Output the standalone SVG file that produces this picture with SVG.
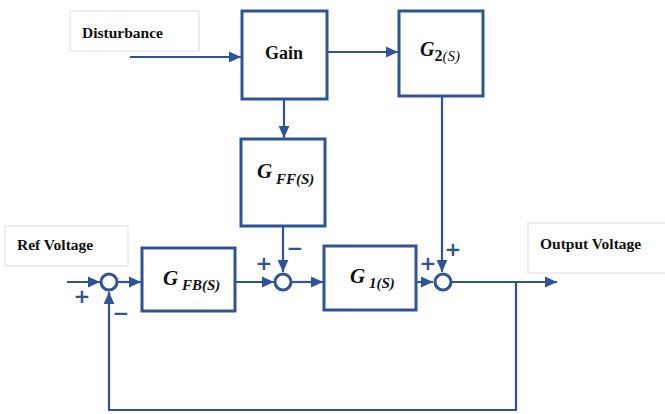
<svg xmlns="http://www.w3.org/2000/svg" width="665" height="414" viewBox="0 0 665 414">
<defs>
<marker id="ah" markerUnits="userSpaceOnUse" markerWidth="12" markerHeight="12" viewBox="0 0 10 10" refX="10" refY="5" orient="auto">
<path d="M0,0.5 L10,5 L0,9.5 Z" fill="#2f5496"/>
</marker>
<style>
.blk{fill:#fff;stroke:#2f5496;stroke-width:3}
.lbl{fill:#fff;stroke:#dcdcdc;stroke-width:1}
.ln{fill:none;stroke:#2f5496;stroke-width:2.2}
.sum{fill:#fff;stroke:#2f5496;stroke-width:3}
.t{font-family:"Liberation Serif",serif;font-weight:bold;fill:#111}
.g{font-family:"Liberation Serif",serif;font-weight:bold;font-style:italic;fill:#111}
.sg{font-family:"DejaVu Sans",sans-serif;font-weight:bold;fill:#2f5496;font-size:20px}
</style>
</defs>
<rect width="665" height="414" fill="#fff"/>

<g id="disturbance-label"><rect class="lbl" x="70" y="11" width="129" height="40"/><text class="t" x="82" y="38" font-size="15.5">Disturbance</text></g>
<g id="ref-label"><rect class="lbl" x="5" y="226" width="123" height="40"/><text class="t" x="17" y="250" font-size="15.5">Ref Voltage</text></g>
<g id="output-label"><rect class="lbl" x="528" y="223" width="140" height="50"/><text class="t" x="540" y="249" font-size="15.5">Output Voltage</text></g>

<g id="connectors">
<line class="ln" x1="130" y1="57" x2="241" y2="57" marker-end="url(#ah)"/>
<line class="ln" x1="327" y1="52" x2="398" y2="52" marker-end="url(#ah)"/>
<line class="ln" x1="284" y1="99" x2="284" y2="138" marker-end="url(#ah)"/>
<line class="ln" x1="442" y1="96" x2="442" y2="272" marker-end="url(#ah)"/>
<line class="ln" x1="283" y1="226" x2="283" y2="272" marker-end="url(#ah)"/>
<line class="ln" x1="67" y1="282" x2="100" y2="282" marker-end="url(#ah)"/>
<line class="ln" x1="118" y1="282" x2="141" y2="282" marker-end="url(#ah)"/>
<line class="ln" x1="235" y1="282" x2="274" y2="282" marker-end="url(#ah)"/>
<line class="ln" x1="292" y1="282" x2="323" y2="282" marker-end="url(#ah)"/>
<line class="ln" x1="416" y1="282" x2="433" y2="282" marker-end="url(#ah)"/>
<line class="ln" x1="452" y1="282" x2="557" y2="282" marker-end="url(#ah)"/>
<polyline class="ln" points="516,282 516,410 109,410 109,292" marker-end="url(#ah)"/>
</g>

<g id="gain"><rect class="blk" x="242" y="11" width="85" height="88"/><text class="t" x="284" y="59" font-size="18" text-anchor="middle">Gain</text></g>
<g id="g2"><rect class="blk" x="399" y="11" width="84" height="85"/><text class="g" x="420" y="56" font-size="20">G<tspan font-size="16" dy="5" font-style="normal">2</tspan><tspan font-size="15" font-weight="normal">(S)</tspan></text></g>
<g id="gff"><rect class="blk" x="241" y="139" width="84" height="87"/><text class="g" x="257" y="178" font-size="21">G<tspan font-size="15" dy="6"> FF(S)</tspan></text></g>
<g id="gfb"><rect class="blk" x="142" y="248" width="93" height="63"/><text class="g" x="163" y="285" font-size="21">G<tspan font-size="15" dy="5"> FB(S)</tspan></text></g>
<g id="g1"><rect class="blk" x="324" y="246" width="92" height="64"/><text class="g" x="350" y="283" font-size="21">G<tspan font-size="15" dy="5"> 1(S)</tspan></text></g>

<g id="sum1"><circle class="sum" cx="109" cy="282" r="8"/><text class="sg" x="82" y="303" text-anchor="middle">+</text><text class="sg" x="121" y="320" text-anchor="middle">−</text></g>
<g id="sum2"><circle class="sum" cx="283" cy="282" r="8"/><text class="sg" x="264" y="270" text-anchor="middle">+</text><text class="sg" x="295" y="255" text-anchor="middle">−</text></g>
<g id="sum3"><circle class="sum" cx="443" cy="282" r="8"/><text class="sg" x="428" y="270" text-anchor="middle">+</text><text class="sg" x="453" y="256" text-anchor="middle">+</text></g>
</svg>
